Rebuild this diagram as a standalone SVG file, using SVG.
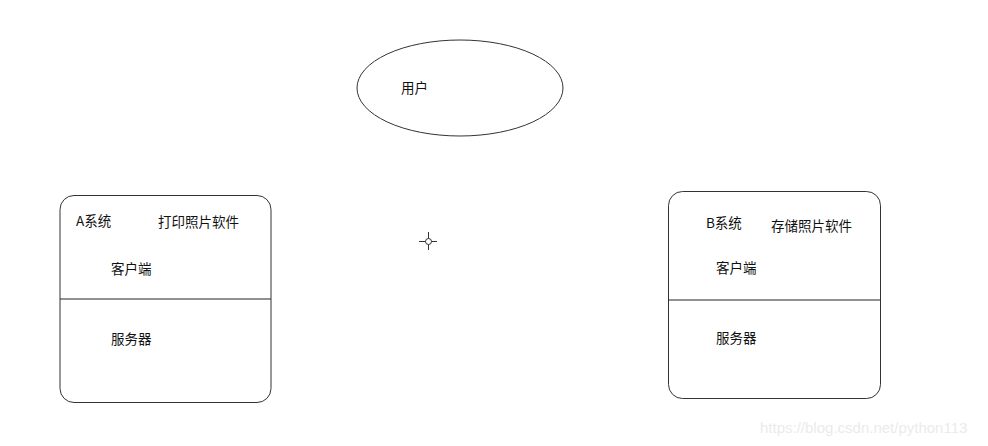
<svg xmlns="http://www.w3.org/2000/svg" width="988" height="446" viewBox="0 0 988 446">
<style>
.shape{fill:#fff;stroke:#333;stroke-width:1}
.div{stroke:#222;stroke-width:1}
text{font-family:"Noto Sans CJK SC","Liberation Sans",sans-serif;font-size:13.5px;fill:#111}
.wm{font-family:"Liberation Sans",sans-serif;font-size:15px;fill:#ebebeb}
</style>
<rect width="988" height="446" fill="#fff"/>
<g id="user">
<ellipse class="shape" cx="460" cy="88" rx="103" ry="48"/>
<text x="401" y="93">用户</text>
</g>
<g id="systemA">
<rect class="shape" x="60" y="195.5" width="211" height="207" rx="14"/>
<line class="div" x1="60" y1="299" x2="271" y2="299"/>
<text x="76" y="226">A系统</text>
<text x="158" y="227">打印照片软件</text>
<text x="111" y="274">客户端</text>
<text x="111" y="344">服务器</text>
</g>
<g id="systemB">
<rect class="shape" x="668.5" y="191.5" width="212" height="207" rx="14"/>
<line class="div" x1="668.5" y1="300" x2="880.5" y2="300"/>
<text x="706" y="228">B系统</text>
<text x="771" y="231">存储照片软件</text>
<text x="716" y="273">客户端</text>
<text x="716" y="343">服务器</text>
</g>
<g id="connectors"></g>
<g id="cursor" stroke="#333" stroke-width="1" fill="none">
<line x1="419" y1="241.5" x2="437" y2="241.5"/>
<line x1="428.5" y1="232" x2="428.5" y2="250"/>
<circle cx="428.5" cy="241.5" r="3" fill="#fff"/>
</g>
<text class="wm" x="760" y="433">https://blog.csdn.net/python113</text>
</svg>
